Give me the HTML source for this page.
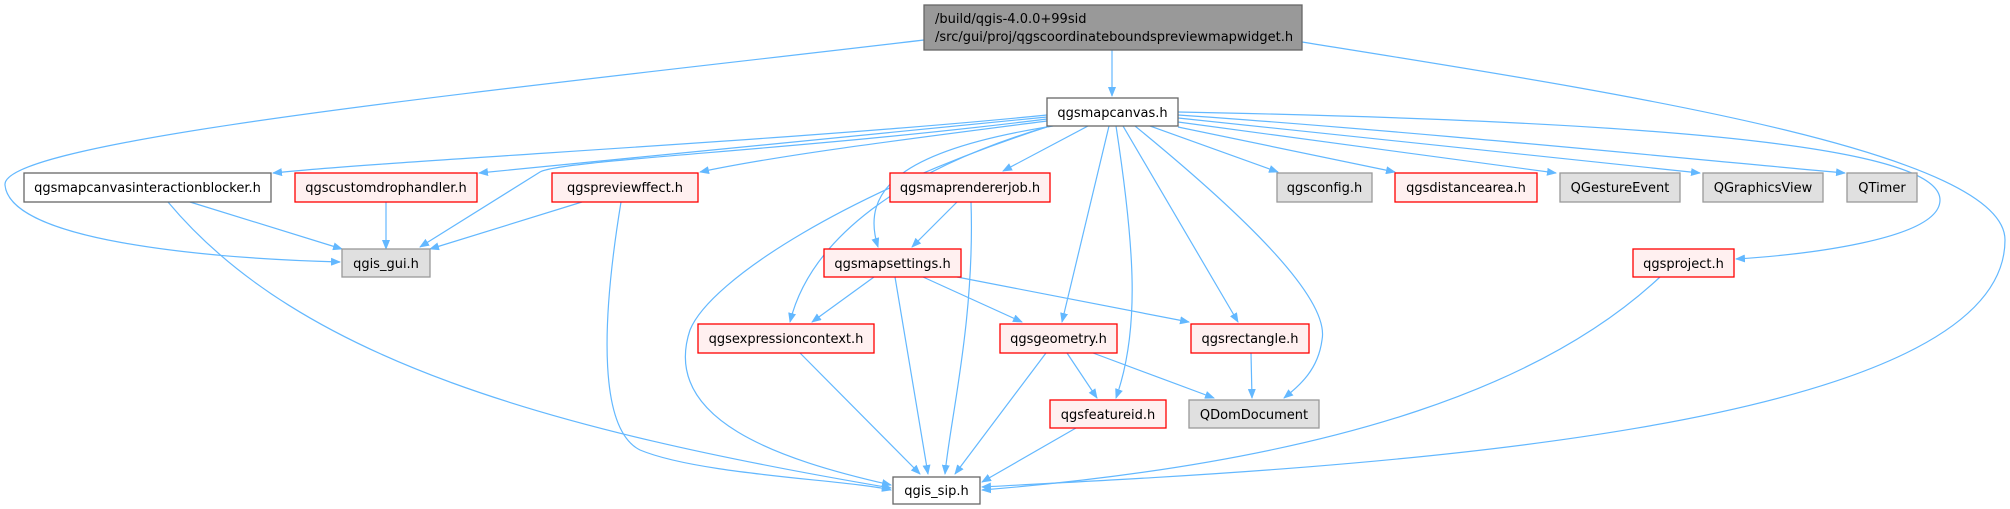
<!DOCTYPE html>
<html><head><meta charset="utf-8"><style>
html,body{margin:0;padding:0;background:#fff;}
svg{display:block;}
text{font-family:"DejaVu Sans","Liberation Sans",sans-serif;font-size:13px;fill:#000;}
.e{fill:none;stroke:#63b8ff;stroke-width:1.2;marker-end:url(#a);}
.w{fill:#fff;stroke:#666;stroke-width:1.3;}
.r{fill:#fff0f0;stroke:#ff0000;stroke-width:1.3;}
.g{fill:#e0e0e0;stroke:#999;stroke-width:1.3;}
</style></head><body>
<svg width="2010" height="509" viewBox="0 0 2010 509">
<defs><marker id="a" markerWidth="10" markerHeight="8" refX="9" refY="4" orient="auto" markerUnits="userSpaceOnUse"><path d="M0,0 L10,4 L0,8 z" fill="#63b8ff"/></marker></defs>
<path class="e" d="M1112,50 L1112,96"/>
<path class="e" d="M924,40 C500,90 0,140 5,185 C10,240 200,258 340,262"/>
<path class="e" d="M1302,42 C1600,90 2005,150 2005,240 C2005,440 1300,470 982,487"/>
<path class="e" d="M1047,115 C800,140 400,160 273,173"/>
<path class="e" d="M1047,117 C800,140 600,160 479,173"/>
<path class="e" d="M1047,119 C800,150 560,160 540,172 L420,247"/>
<path class="e" d="M1047,121 C900,140 780,155 700,172"/>
<path class="e" d="M1050,126 C850,190 710,280 690,330 C660,420 780,460 891,485"/>
<path class="e" d="M1050,126 C900,170 810,240 790,322"/>
<path class="e" d="M1053,126 C900,150 860,190 878,247"/>
<path class="e" d="M1088,126 L1003,171"/>
<path class="e" d="M1109,126 L1062,322"/>
<path class="e" d="M1116,126 C1135,250 1140,330 1116,398"/>
<path class="e" d="M1123,126 L1238,322"/>
<path class="e" d="M1135,126 C1250,220 1330,300 1322,340 C1318,370 1300,385 1284,398"/>
<path class="e" d="M1150,126 L1278,172"/>
<path class="e" d="M1178,127 L1395,172"/>
<path class="e" d="M1178,122 L1556,173"/>
<path class="e" d="M1178,118 L1700,173"/>
<path class="e" d="M1178,115 C1400,130 1700,160 1845,173"/>
<path class="e" d="M1178,112 C1700,122 1940,150 1940,200 C1940,240 1800,255 1736,259"/>
<path class="e" d="M190,202 L342,249"/>
<path class="e" d="M168,202 C300,360 550,430 891,488"/>
<path class="e" d="M386,202 L386,249"/>
<path class="e" d="M582,202 L430,249"/>
<path class="e" d="M621,202 C600,330 600,430 640,450 C700,475 850,480 891,490"/>
<path class="e" d="M957,202 L912,247"/>
<path class="e" d="M971,202 C975,320 950,420 945,474"/>
<path class="e" d="M874,277 L812,322"/>
<path class="e" d="M895,277 L928,474"/>
<path class="e" d="M923,277 L1022,322"/>
<path class="e" d="M957,277 L1189,322"/>
<path class="e" d="M800,353 L920,474"/>
<path class="e" d="M1046,353 L955,474"/>
<path class="e" d="M1067,353 L1097,398"/>
<path class="e" d="M1093,353 L1214,398"/>
<path class="e" d="M1251,353 L1252,398"/>
<path class="e" d="M1076,428 L982,482"/>
<path class="e" d="M1660,277 C1550,380 1350,460 982,490"/>
<rect x="924" y="5" width="378" height="45" fill="#999" stroke="#666" stroke-width="1.3"/>
<text x="935" y="23">/build/qgis-4.0.0+99sid</text>
<text x="935" y="41">/src/gui/proj/qgscoordinateboundspreviewmapwidget.h</text>
<rect class="w" x="1047" y="98" width="131" height="28"/><text x="1112.5" y="117" text-anchor="middle">qgsmapcanvas.h</text>
<rect class="w" x="24" y="173" width="247" height="29"/><text x="147.5" y="192" text-anchor="middle">qgsmapcanvasinteractionblocker.h</text>
<rect class="r" x="295" y="173" width="182" height="29"/><text x="386" y="192" text-anchor="middle">qgscustomdrophandler.h</text>
<rect class="r" x="552" y="173" width="146" height="29"/><text x="625" y="192" text-anchor="middle">qgspreviewffect.h</text>
<rect class="r" x="890" y="173" width="160" height="29"/><text x="970" y="192" text-anchor="middle">qgsmaprendererjob.h</text>
<rect class="g" x="1277" y="173" width="95" height="29"/><text x="1324.5" y="192" text-anchor="middle">qgsconfig.h</text>
<rect class="r" x="1395" y="173" width="142" height="29"/><text x="1466" y="192" text-anchor="middle">qgsdistancearea.h</text>
<rect class="g" x="1560" y="173" width="120" height="29"/><text x="1620" y="192" text-anchor="middle">QGestureEvent</text>
<rect class="g" x="1703" y="173" width="120" height="29"/><text x="1763" y="192" text-anchor="middle">QGraphicsView</text>
<rect class="g" x="1847" y="173" width="70" height="29"/><text x="1882" y="192" text-anchor="middle">QTimer</text>
<rect class="g" x="342" y="249" width="88" height="28"/><text x="386" y="268" text-anchor="middle">qgis_gui.h</text>
<rect class="r" x="824" y="249" width="137" height="28"/><text x="892.5" y="268" text-anchor="middle">qgsmapsettings.h</text>
<rect class="r" x="1633" y="249" width="101" height="28"/><text x="1683.5" y="268" text-anchor="middle">qgsproject.h</text>
<rect class="r" x="698" y="324" width="176" height="29"/><text x="786" y="343" text-anchor="middle">qgsexpressioncontext.h</text>
<rect class="r" x="1000" y="324" width="117" height="29"/><text x="1058.5" y="343" text-anchor="middle">qgsgeometry.h</text>
<rect class="r" x="1191" y="324" width="118" height="29"/><text x="1250" y="343" text-anchor="middle">qgsrectangle.h</text>
<rect class="r" x="1050" y="400" width="116" height="28"/><text x="1108" y="419" text-anchor="middle">qgsfeatureid.h</text>
<rect class="g" x="1189" y="400" width="130" height="28"/><text x="1254" y="419" text-anchor="middle">QDomDocument</text>
<rect class="w" x="893" y="477" width="87" height="27"/><text x="936.5" y="495" text-anchor="middle">qgis_sip.h</text>
</svg>
</body></html>
